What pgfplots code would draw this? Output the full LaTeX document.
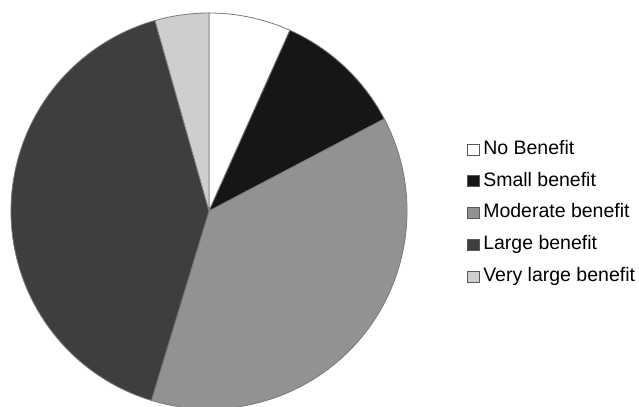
\documentclass[border=0pt]{standalone}
\usepackage{pgfplots}
\pgfplotsset{compat=1.18}
\usepackage{fontspec}
\setmainfont{Liberation Sans}
\definecolor{cNo}{HTML}{FFFFFF}
\definecolor{cSmall}{HTML}{161616}
\definecolor{cMod}{HTML}{929292}
\definecolor{cLarge}{HTML}{3E3E3E}
\definecolor{cVery}{HTML}{CECECE}
\definecolor{cEdge}{HTML}{7A7A7A}
\begin{document}
\begin{tikzpicture}
% shares in percent
\def\vA{6.7}\def\vB{10.6}\def\vC{37.4}\def\vD{40.9}\def\vE{4.4}
\pgfmathsetmacro\aA{90}
\pgfmathsetmacro\aB{\aA-3.6*\vA}
\pgfmathsetmacro\aC{\aB-3.6*\vB}
\pgfmathsetmacro\aD{\aC-3.6*\vC}
\pgfmathsetmacro\aE{\aD-3.6*\vD}
\pgfmathsetmacro\aF{\aE-3.6*\vE}
\begin{axis}[
  name=pie,
  scale only axis, width=639bp, height=407bp,
  xmin=0, xmax=639, ymin=0, ymax=407,
  hide axis, clip=true,
  legend cell align=left,
  legend image code/.code={\draw[#1] (0bp,-5.5bp) rectangle (11.5bp,5.5bp);},
  legend style={at={(axis cs:464,194)}, anchor=west, draw=none, fill=none,
    font=\fontsize{19.5bp}{22bp}\selectfont,
    nodes={inner sep=0pt, text height=14bp, text depth=4bp},
    row sep=13.75bp, column sep=4bp},
]
\addlegendimage{fill=cNo, draw=black!65, line width=0.6bp}
\addlegendentry{No Benefit}
\addlegendimage{fill=cSmall, draw=black!65, line width=0.6bp}
\addlegendentry{Small benefit}
\addlegendimage{fill=cMod, draw=black!65, line width=0.6bp}
\addlegendentry{Moderate benefit}
\addlegendimage{fill=cLarge, draw=black!65, line width=0.6bp}
\addlegendentry{Large benefit}
\addlegendimage{fill=cVery, draw=black!65, line width=0.6bp}
\addlegendentry{Very large benefit}
\filldraw[fill=cNo, draw=cEdge, line width=0.8bp] (axis cs:209,196) -- ++(\aA:198bp) arc[start angle=\aA, end angle=\aB, radius=198bp] -- cycle;
\filldraw[fill=cSmall, draw=cEdge, line width=0.8bp] (axis cs:209,196) -- ++(\aB:198bp) arc[start angle=\aB, end angle=\aC, radius=198bp] -- cycle;
\filldraw[fill=cMod, draw=cEdge, line width=0.8bp] (axis cs:209,196) -- ++(\aC:198bp) arc[start angle=\aC, end angle=\aD, radius=198bp] -- cycle;
\filldraw[fill=cLarge, draw=cEdge, line width=0.8bp] (axis cs:209,196) -- ++(\aD:198bp) arc[start angle=\aD, end angle=\aE, radius=198bp] -- cycle;
\filldraw[fill=cVery, draw=cEdge, line width=0.8bp] (axis cs:209,196) -- ++(\aE:198bp) arc[start angle=\aE, end angle=\aF, radius=198bp] -- cycle;
\end{axis}
\path (pie.south west) rectangle (pie.north east);
\end{tikzpicture}
\end{document}
